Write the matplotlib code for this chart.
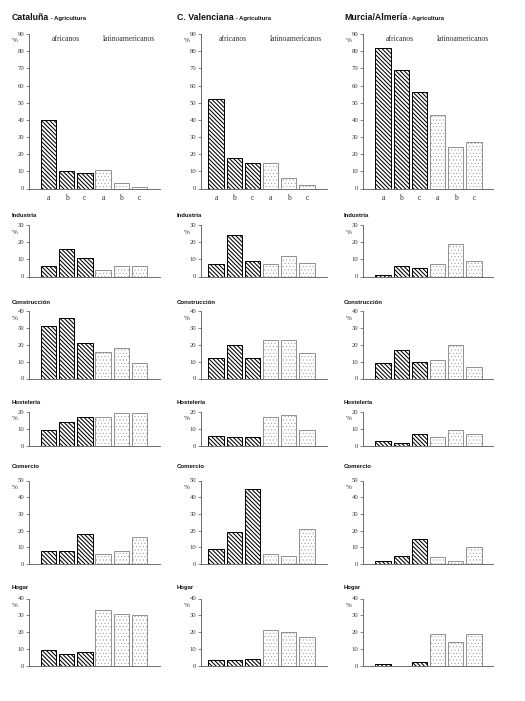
import matplotlib
matplotlib.use("Agg")
import matplotlib.pyplot as plt
import numpy as np

regions = ['Cataluña', 'C. Valenciana', 'Murcia/Almería']
sectors = ['Agricultura', 'Industria', 'Construcción', 'Hostelería', 'Comercio', 'Hogar']
cats = ['a', 'b', 'c', 'a', 'b', 'c']
ymax = [90, 30, 40, 20, 50, 40]

# values: africanos a,b,c then latinoamericanos a,b,c
cat_agricultura = [40, 10, 9, 11, 3, 1]
cat_industria = [6, 16, 11, 4, 6, 6]
cat_construccion = [31, 36, 21, 16, 18, 9]
cat_hosteleria = [9, 14, 17, 17, 19, 19]
cat_comercio = [8, 8, 18, 6, 8, 16]
cat_hogar = [9, 7, 8, 33, 31, 30]

val_agricultura = [52, 18, 15, 15, 6, 2]
val_industria = [7, 24, 9, 7, 12, 8]
val_construccion = [12, 20, 12, 23, 23, 15]
val_hosteleria = [6, 5, 5, 17, 18, 9]
val_comercio = [9, 19, 45, 6, 5, 21]
val_hogar = [3, 3, 4, 21, 20, 17]

mur_agricultura = [82, 69, 56, 43, 24, 27]
mur_industria = [1, 6, 5, 7, 19, 9]
mur_construccion = [9, 17, 10, 11, 20, 7]
mur_hosteleria = [3, 2, 7, 5, 9, 7]
mur_comercio = [2, 5, 15, 4, 2, 10]
mur_hogar = [1, 0, 2, 19, 14, 19]

data = [
    [cat_agricultura, cat_industria, cat_construccion, cat_hosteleria, cat_comercio, cat_hogar],
    [val_agricultura, val_industria, val_construccion, val_hosteleria, val_comercio, val_hogar],
    [mur_agricultura, mur_industria, mur_construccion, mur_hosteleria, mur_comercio, mur_hogar],
]

W, H = 525, 701
fig = plt.figure(figsize=(W / 100, H / 100), dpi=100)
fig.patch.set_facecolor('white')

# layout in pixels
col_lr = [(29, 160), (201, 327), (363, 493)]
col_c0 = [48.5, 216, 383]
col_title_x = [12, 177, 344]
spacing = 18.2
row_tb = [(34, 188.5), (225, 276.5), (311, 378.5), (411.5, 446), (480.5, 564), (598.5, 665.5)]
row_title_y = [18, 215, 302, 402, 467, 588]

serif = 'Liberation Serif'
sans = 'Liberation Sans'
x = np.arange(6)


def set_hlw(patches, lw):
    for p in patches:
        if hasattr(p, 'set_hatch_linewidth'):
            p.set_hatch_linewidth(lw)


for ci in range(3):
    left, right = col_lr[ci]
    c0 = col_c0[ci]
    for ri in range(6):
        top, bottom = row_tb[ri]
        ax = fig.add_axes([left / W, 1 - bottom / H, (right - left) / W, (bottom - top) / H])
        vals = data[ci][ri]
        with plt.rc_context({'hatch.linewidth': 0.75}):
            b1 = ax.bar(x[:3], vals[:3], width=0.84, facecolor='white', edgecolor='black',
                        hatch='\\' * 8, linewidth=0.7)
        set_hlw(b1, 0.75)
        with plt.rc_context({'hatch.linewidth': 0.3}):
            b2 = ax.bar(x[3:], vals[3:], width=0.84, facecolor='white', edgecolor='#909090',
                        hatch='.....', linewidth=0.7)
        set_hlw(b2, 0.3)
        ax.set_xlim((left - c0) / spacing, (right - c0) / spacing)
        ax.set_ylim(0, ymax[ri])
        ax.set_yticks(np.arange(0, ymax[ri] + 1, 10))
        for s in ['top', 'right']:
            ax.spines[s].set_visible(False)
        for s in ['left', 'bottom']:
            ax.spines[s].set_color('#555555')
            ax.spines[s].set_linewidth(0.6)
        ax.tick_params(axis='y', direction='out', length=2, width=0.5, colors='#555555',
                       labelsize=4.8, pad=1.5, labelcolor='#333333')
        for lab in ax.get_yticklabels():
            lab.set_fontfamily(serif)
        if ri == 0:
            ax.set_xticks(x)
            ax.set_xticklabels(cats, fontfamily=serif, fontsize=5.5, color='#333333')
            ax.tick_params(axis='x', length=0, pad=4)
            ax.text(0.95, ymax[ri] - 3, 'africanos', ha='center', va='center',
                    fontfamily=serif, fontsize=5.5, color='#333333')
            ax.text(4.4, ymax[ri] - 3, 'latinoamericanos', ha='center', va='center',
                    fontfamily=serif, fontsize=5.5, color='#333333')
        else:
            ax.set_xticks([])
        # percent sign
        fig.text((left - 14) / W, 1 - (top + 7) / H, '%', ha='center', va='center',
                 fontfamily=serif, fontsize=5, color='#333333')
        # titles
        if ri == 0:
            t = fig.text(col_title_x[ci] / W, 1 - (row_title_y[ri] + 2) / H, regions[ci],
                         ha='left', va='baseline', fontfamily=sans, fontweight='bold',
                         fontsize=6.3, color='#111111')
            r = fig.canvas.get_renderer()
            bb = t.get_window_extent(renderer=r)
            fig.text(bb.x1 / W, 1 - (row_title_y[ri] + 2) / H, ' - ' + sectors[ri],
                     ha='left', va='baseline', fontfamily=sans, fontweight='bold',
                     fontsize=4.3, color='#111111')
        else:
            fig.text(col_title_x[ci] / W, 1 - row_title_y[ri] / H, sectors[ri],
                     ha='left', va='center', fontfamily=sans, fontweight='bold',
                     fontsize=4.3, color='#111111')

fig.savefig('out.png', dpi=100, facecolor='white')
